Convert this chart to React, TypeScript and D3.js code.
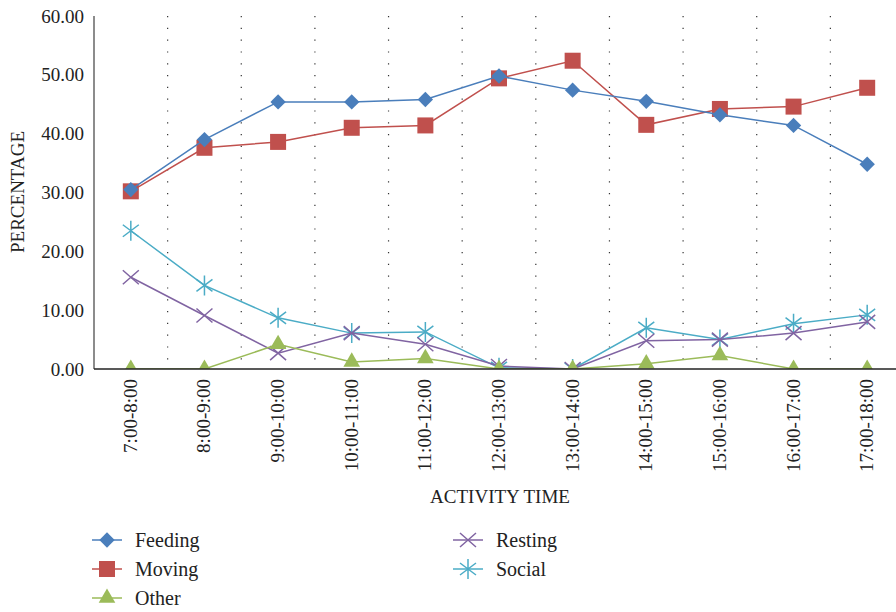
import React, { useEffect, useRef } from 'react'
import * as d3 from 'd3'

// activity time slots
const times = ['7:00-8:00', '8:00-9:00', '9:00-10:00', '10:00-11:00', '11:00-12:00', '12:00-13:00',
  '13:00-14:00', '14:00-15:00', '15:00-16:00', '16:00-17:00', '17:00-18:00']

const feeding = [30.5, 39.0, 45.4, 45.4, 45.8, 49.8, 47.4, 45.5, 43.2, 41.4, 34.8]
const moving = [30.2, 37.6, 38.6, 41.0, 41.4, 49.4, 52.4, 41.5, 44.2, 44.6, 47.8]
const other = [0, 0, 4.2, 1.2, 1.8, 0, 0, 0.9, 2.3, 0, 0]
const resting = [15.6, 9.1, 2.7, 6.1, 4.2, 0.5, 0, 4.8, 5.0, 6.1, 8.0]
const social = [23.5, 14.2, 8.7, 6.1, 6.3, 0.2, 0, 7.0, 5.0, 7.7, 9.2]

const yTicks = [0, 10, 20, 30, 40, 50, 60]

const series = [
  { name: 'Feeding', values: feeding, color: '#4a7ebb', marker: 'diamond' },
  { name: 'Moving', values: moving, color: '#c0504d', marker: 'square' },
  { name: 'Other', values: other, color: '#9bbb59', marker: 'triangle' },
  { name: 'Resting', values: resting, color: '#8064a2', marker: 'x' },
  { name: 'Social', values: social, color: '#4bacc6', marker: 'star' },
]

const FONT = '"Liberation Serif", "DejaVu Serif", serif'

function drawMarker(g, type, color) {
  if (type === 'diamond') {
    g.append('path').attr('d', d3.symbol(d3.symbolDiamond2, 150)()).attr('fill', color)
  } else if (type === 'square') {
    g.append('rect').attr('x', -8).attr('y', -8).attr('width', 16).attr('height', 16).attr('fill', color)
  } else if (type === 'triangle') {
    g.append('path').attr('d', d3.symbol(d3.symbolTriangle, 120)()).attr('fill', color)
  } else if (type === 'x') {
    g.append('path').attr('d', 'M-8,-7L8,7M-8,7L8,-7').attr('stroke', color).attr('stroke-width', 1.5).attr('fill', 'none')
  } else {
    g.append('path').attr('d', 'M-8,-6L8,6M-8,6L8,-6M0,-10V10').attr('stroke', color).attr('stroke-width', 1.5).attr('fill', 'none')
  }
}

export default function App() {
  const ref = useRef(null)

  useEffect(() => {
    const svg = d3.select(ref.current)
    svg.selectAll('*').remove()

    const margin = { left: 94, top: 16 }
    const w = 810, h = 353

    const x = d3.scaleBand().domain(times).range([0, w]).paddingInner(0).paddingOuter(0)
    const y = d3.scaleLinear().domain([0, 60]).range([h, 0])

    const g = svg.append('g').attr('transform', `translate(${margin.left},${margin.top})`)

    svg.append('defs').append('clipPath').attr('id', 'plotclip')
      .append('rect').attr('x', -10).attr('y', -20).attr('width', w + 20).attr('height', h + 20)

    // dotted separators between categories
    g.selectAll('.sep').data(times.slice(1)).join('line').attr('class', 'sep')
      .attr('x1', d => x(d)).attr('x2', d => x(d))
      .attr('y1', 0).attr('y2', h)
      .attr('stroke', '#333').attr('stroke-width', 1.2)
      .attr('stroke-dasharray', '1.2,10.6')

    // y axis
    g.append('line').attr('x1', 0).attr('x2', 0).attr('y1', 0).attr('y2', h)
      .attr('stroke', '#666').attr('stroke-width', 1.5)
    g.selectAll('.ytick').data(yTicks).join('text').attr('class', 'ytick')
      .attr('x', -10).attr('y', d => y(d)).attr('dy', '0.35em')
      .attr('text-anchor', 'end').attr('font-family', FONT).attr('font-size', 19).attr('fill', '#222')
      .text(d => d.toFixed(2))

    // lines and markers
    const line = d3.line().x((d, i) => x(times[i]) + x.bandwidth() / 2).y(d => y(d))
    const plot = g.append('g').attr('clip-path', 'url(#plotclip)')
    series.slice().reverse().forEach(s => {
      plot.append('path').datum(s.values).attr('d', line)
        .attr('fill', 'none').attr('stroke', s.color).attr('stroke-width', 1.5)
      s.values.forEach((v, i) => {
        const m = plot.append('g').attr('transform', `translate(${x(times[i]) + x.bandwidth() / 2},${y(v)})`)
        drawMarker(m, s.marker, s.color)
      })
    })

    // x axis
    g.append('line').attr('x1', 0).attr('x2', w).attr('y1', h).attr('y2', h)
      .attr('stroke', '#222').attr('stroke-width', 1.5)
    g.selectAll('.xtick').data(times).join('text').attr('class', 'xtick')
      .attr('transform', d => `translate(${x(d) + x.bandwidth() / 2 + 6},${h + 10}) rotate(-90)`)
      .attr('text-anchor', 'end').attr('font-family', FONT).attr('font-size', 19).attr('fill', '#222')
      .text(d => d)

    // axis titles
    svg.append('text').attr('x', 500).attr('y', 503).attr('text-anchor', 'middle')
      .attr('font-family', FONT).attr('font-size', 19).attr('fill', '#222').text('ACTIVITY TIME')
    svg.append('text').attr('transform', 'translate(24,192) rotate(-90)').attr('text-anchor', 'middle')
      .attr('font-family', FONT).attr('font-size', 19).attr('fill', '#222').text('PERCENTAGE')

    // legend
    const legendPos = [[92, 540], [92, 569], [92, 598], [453, 540], [453, 569]]
    series.forEach((s, i) => {
      const [lx, ly] = legendPos[i]
      const lg = svg.append('g').attr('transform', `translate(${lx},${ly})`)
      lg.append('line').attr('x1', 0).attr('x2', 30).attr('stroke', s.color).attr('stroke-width', 1.5)
      drawMarker(lg.append('g').attr('transform', 'translate(15,0)'), s.marker, s.color)
      lg.append('text').attr('x', 43).attr('dy', '0.35em').attr('font-family', FONT).attr('font-size', 20)
        .attr('fill', '#222').text(s.name)
    })
  }, [])

  return <svg ref={ref} width={896} height={612} style={{ position: 'absolute', left: 0, top: 0 }} />
}
